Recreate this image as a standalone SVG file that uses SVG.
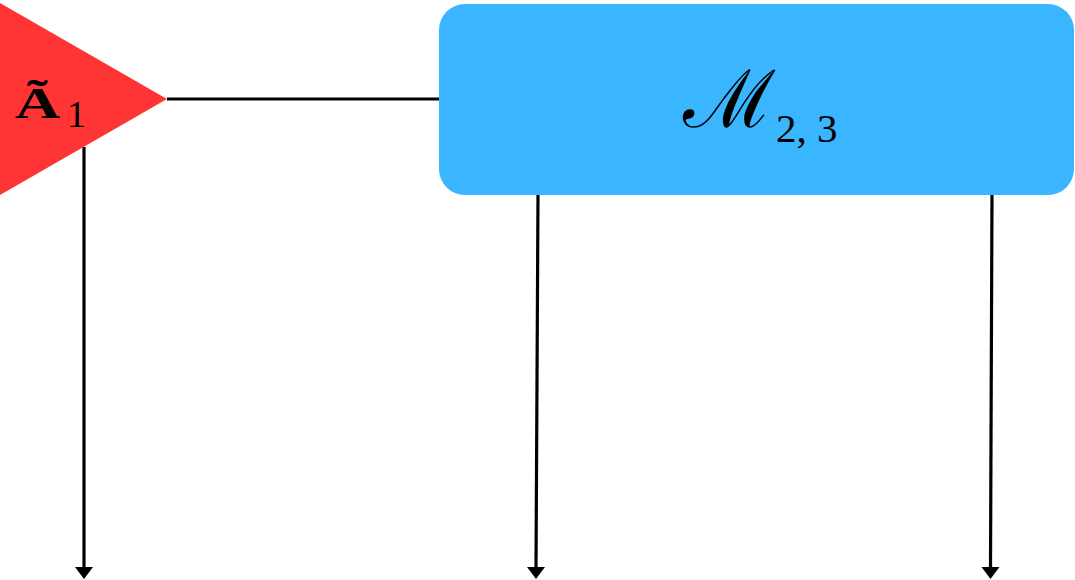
<svg xmlns="http://www.w3.org/2000/svg" width="1075" height="580" viewBox="0 0 1075 580">
<style>
.wire{stroke:#000;stroke-width:3.2;fill:none}
.head{fill:#000}
.lbl{fill:#000;font-family:"Liberation Serif","DejaVu Serif",serif}
</style>
<rect width="1075" height="580" fill="#fff"/>
<g id="connectors">
<line class="wire" x1="167" y1="99" x2="440" y2="99"/>
<line class="wire" x1="84" y1="147" x2="84" y2="568"/>
<polygon class="head" points="75,567 93,567 84,579"/>
<line class="wire" x1="538" y1="194" x2="536" y2="568"/>
<polygon class="head" points="527,567 545,567 536,579"/>
<line class="wire" x1="992" y1="194" x2="990.5" y2="568"/>
<polygon class="head" points="981.5,567 999.5,567 990.5,579"/>
</g>
<g id="node-A1">
<polygon points="0,3 167,99 0,195" fill="#FF3434"/>
<text class="lbl" transform="translate(15,118) scale(1.4,1)" font-size="45" font-weight="bold">Ã</text>
<text class="lbl" x="67" y="127" font-size="38">1</text>
</g>
<g id="node-M23">
<rect x="439" y="4" width="635" height="191" rx="26" ry="26" fill="#3AB5FF"/>
<text class="lbl" x="683" y="127" font-size="80" font-family="DejaVu Serif,serif">ℳ</text>
<text class="lbl" x="776" y="142" font-size="41">2, 3</text>
</g>
</svg>
